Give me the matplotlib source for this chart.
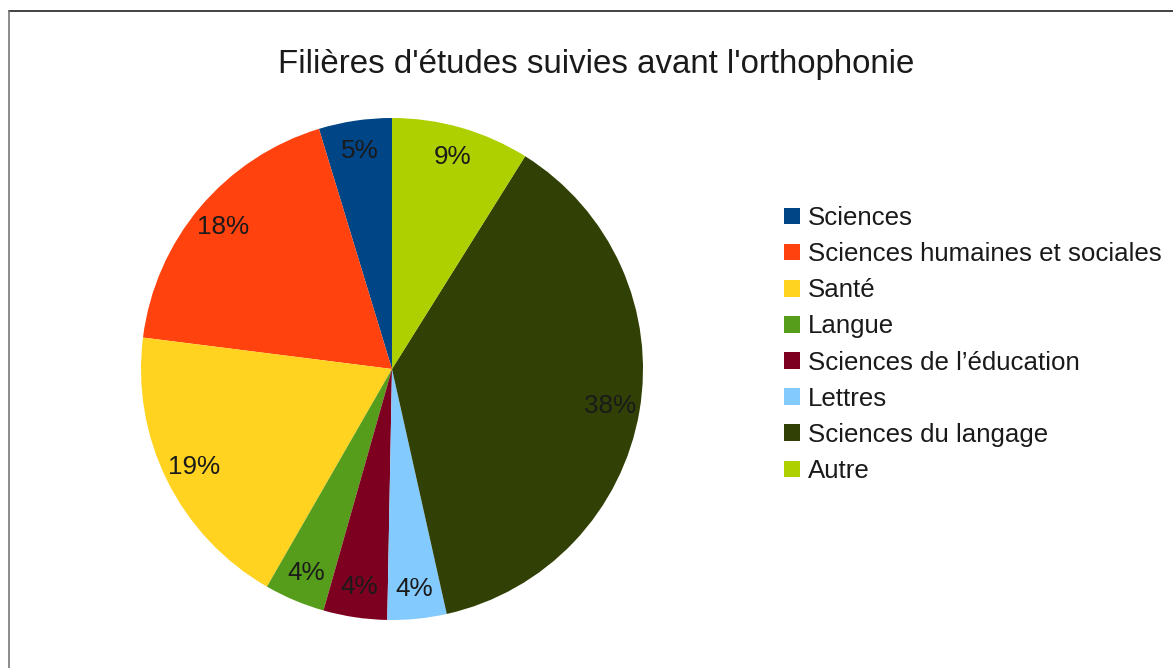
import matplotlib.pyplot as plt
from matplotlib.patches import Patch
from matplotlib.lines import Line2D

# data
categories = ["Sciences", "Sciences humaines et sociales", "Santé", "Langue",
              "Sciences de l\u2019éducation", "Lettres", "Sciences du langage", "Autre"]
shares = [4.7, 18.3, 18.7, 3.9, 4.1, 3.8, 37.6, 8.9]
colors = ["#004586", "#ff420e", "#ffd320", "#579d1c",
          "#7e0021", "#83caff", "#314004", "#aecf00"]
title = "Filières d'études suivies avant l'orthophonie"

plt.rcParams['font.family'] = ['Liberation Sans', 'DejaVu Sans']

W, H = 1173, 668
fig = plt.figure(figsize=(W / 100, H / 100), dpi=100)

# pie centre (392, 369) px, radius 251 px
cx, cy, r = 392, 369, 251
ax = fig.add_axes([(cx - r) / W, (H - cy - r) / H, 2 * r / W, 2 * r / H])
wedges, texts, autotexts = ax.pie(shares, colors=colors, startangle=90, counterclock=True,
                                  autopct='%.0f%%', pctdistance=0.88, radius=1,
                                  textprops={'fontsize': 18.8, 'color': '#1a1a1a'})
ax.set_xlim(-1, 1)
ax.set_ylim(-1, 1)
ax.set_aspect('equal')
ax.axis('off')

fig.text(596 / W, 1 - 65 / H, title, ha='center', va='center', fontsize=23.8, color='#1a1a1a')

handles = [Patch(facecolor=c, edgecolor='none') for c in colors]
fig.legend(handles, categories, loc='upper left', bbox_to_anchor=(784 / W, 1 - 206 / H),
           frameon=False, fontsize=18.6, handlelength=0.62, handleheight=0.62,
           handletextpad=0.3, labelspacing=0.47, borderpad=0, borderaxespad=0,
           labelcolor='#1a1a1a')

# chart border (top and left edges visible)
fig.add_artist(Line2D([8.5 / W, 1], [1 - 10.5 / H, 1 - 10.5 / H], color='#222222', lw=1.2))
fig.add_artist(Line2D([8.5 / W, 8.5 / W], [0, 1 - 10.5 / H], color='#777777', lw=1.2))

fig.savefig("out.png", dpi=100)
